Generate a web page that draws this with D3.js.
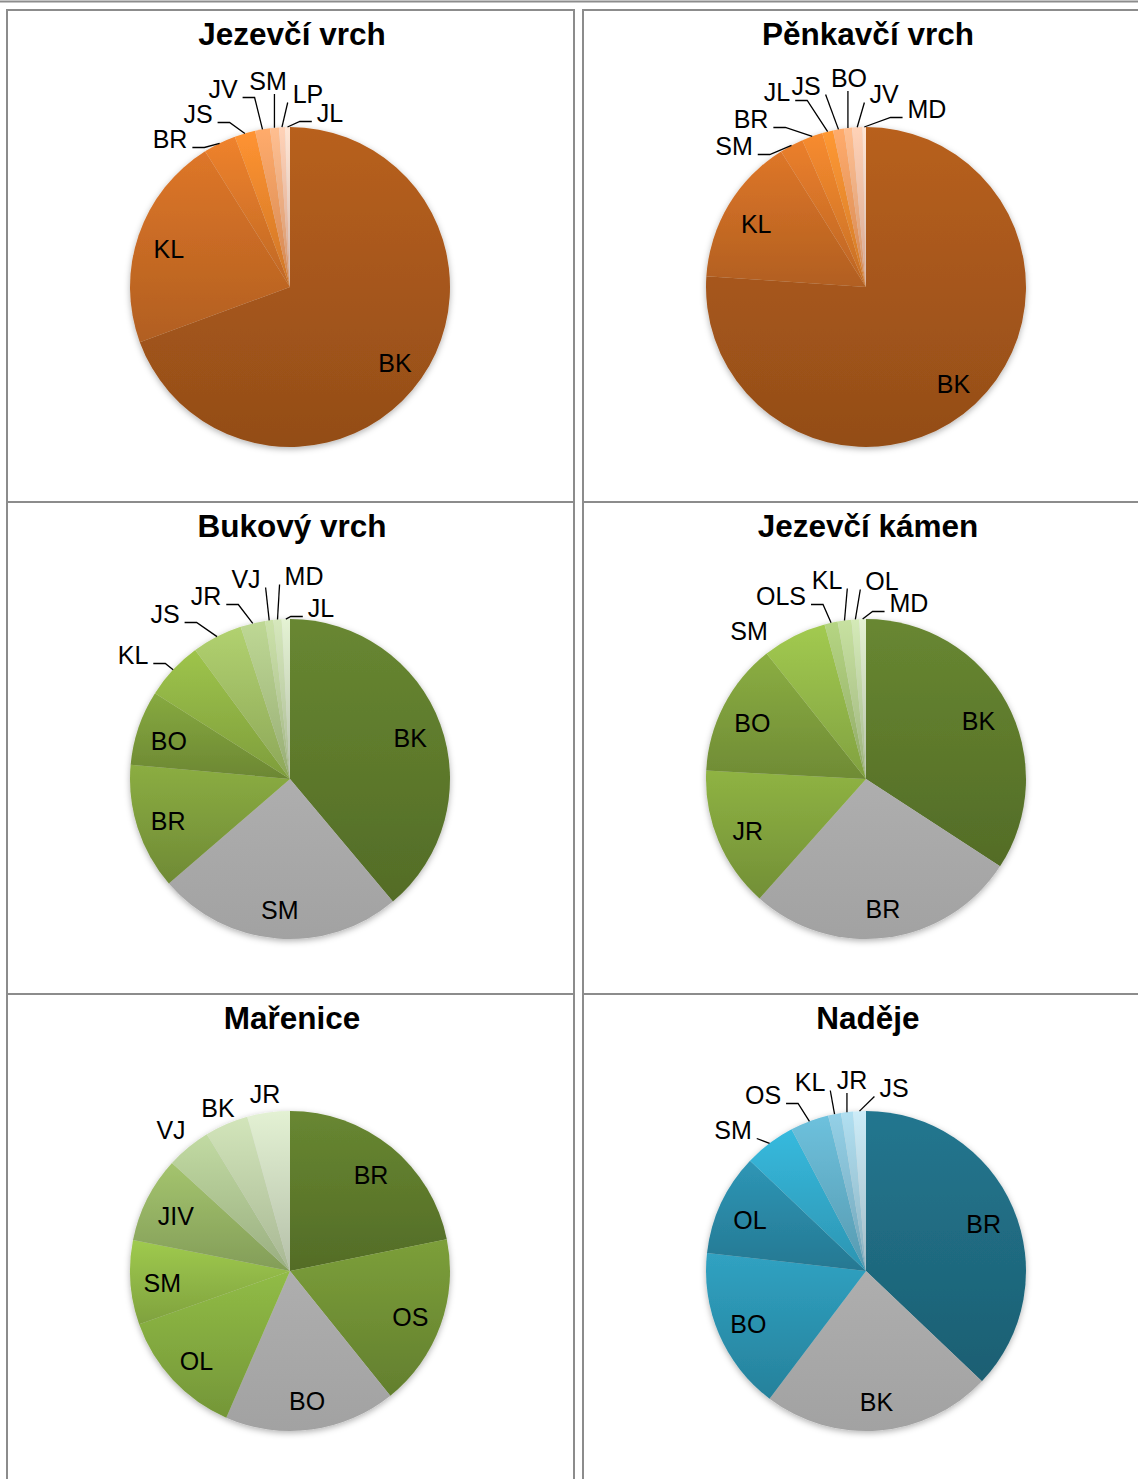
<!DOCTYPE html>
<html>
<head>
<meta charset="utf-8">
<script src="https://cdn.jsdelivr.net/npm/d3@7"></script>
<style>
  body { margin: 0; background: #fff; }
  svg text { font-family: "Liberation Sans", Arial, sans-serif; fill: #000; }
</style>
</head>
<body>
<svg id="chart" width="1138" height="1479"></svg>
<script>
// Tree species composition (%) at six forest sites

const siteTitles = ["Jezevčí vrch", "Pěnkavčí vrch", "Bukový vrch", "Jezevčí kámen", "Mařenice", "Naděje"];

const jezevciVrchSpecies = ["BK", "KL", "BR", "JS", "JV", "SM", "LP", "JL"];
const jezevciVrchShare   = [69.4, 21.7, 3.3, 2.1, 1.5, 0.9, 0.6, 0.5];

const penkavciVrchSpecies = ["BK", "KL", "SM", "BR", "JL", "JS", "BO", "JV", "MD"];
const penkavciVrchShare   = [76.0, 15.0, 2.4, 2.1, 1.1, 1.1, 0.8, 1.05, 0.35];

const bukovyVrchSpecies = ["BK", "SM", "BR", "BO", "KL", "JS", "JR", "VJ", "MD", "JL"];
const bukovyVrchShare   = [38.9, 24.8, 12.75, 7.6, 5.9, 5.1, 2.5, 0.83, 0.83, 0.83];

const jezevciKamenSpecies = ["BK", "BR", "JR", "BO", "SM", "OLS", "KL", "OL", "MD"];
const jezevciKamenShare   = [34.2, 27.4, 14.25, 13.5, 6.5, 1.33, 1.39, 0.78, 0.67];

const mareniceSpecies = ["BR", "OS", "BO", "OL", "SM", "JIV", "VJ", "BK", "JR"];
const mareniceShare   = [21.8, 17.4, 17.3, 13.06, 8.5, 8.7, 4.5, 4.4, 4.3];

const nadejeSpecies = ["BR", "BK", "BO", "OL", "SM", "OS", "KL", "JR", "JS"];
const nadejeShare   = [37.1, 23.2, 16.5, 10.3, 5.2, 3.9, 1.3, 1.2, 1.3];

// Slice fill colours (mid tone of each slice's vertical gradient)
const orangeA = ["#ad5a1c", "#d06f26", "#e07a2a", "#f28a2e", "#f7a064", "#f9b286", "#fbc5ac", "#fcd8c8"];
const orangeB = ["#ad5a1c", "#d06f26", "#dc7729", "#e8822c", "#f48f30", "#f7a064", "#f9b286", "#fbc5ac", "#fcd8c8"];
const greenA  = ["#627f2e", "#a9a9a9", "#82a23e", "#7f9f3c", "#94b846", "#a6c468", "#b2cb8b", "#bfd49f", "#c9dab0", "#d6e3c6"];
const greenB  = ["#627f2e", "#a9a9a9", "#86a83f", "#82a33e", "#98bd4b", "#aac87a", "#bbd396", "#c7dbac", "#d6e3c6"];
const greenC  = ["#627f2e", "#749536", "#a9a9a9", "#88b042", "#95bd49", "#9ab867", "#b5cc98", "#c5d7ae", "#d5e2c6"];
const blueA   = ["#216f86", "#a9a9a9", "#2d98b6", "#2b8dab", "#34aed0", "#66b5cf", "#8ac3d9", "#a5d1e2", "#bfdde9"];

// Placement of labels set outside the pie (offset of the label centre from the pie centre)
const outsideLabels = {
  "Jezevčí vrch":  { BR: [-120, -148], JS: [-92, -173], JV: [-67, -198], SM: [-22, -206], LP: [18, -193], JL: [40, -174] },
  "Pěnkavčí vrch": { SM: [-132, -141], BR: [-115, -168], JL: [-89, -195], JS: [-60, -201], BO: [-17, -209], JV: [18, -193], MD: [61, -178] },
  "Bukový vrch":   { KL: [-157, -124], JS: [-125, -165], JR: [-84, -183], VJ: [-44, -200], MD: [14, -203], JL: [31, -171] },
  "Jezevčí kámen": { SM: [-117, -148], OLS: [-85, -183], KL: [-39, -199], OL: [16, -198], MD: [43, -176] },
  "Mařenice":      { VJ: [-119, -141], BK: [-72, -163], JR: [-25, -177] },
  "Naděje":        { SM: [-133, -141], OS: [-103, -176], KL: [-56, -189], JR: [-14, -191], JS: [28, -183] }
};
const labelsWithoutLeader = { "Jezevčí kámen": ["SM"], "Mařenice": ["VJ", "BK", "JR"] };

const sites = [
  { title: siteTitles[0], species: jezevciVrchSpecies,  share: jezevciVrchShare,  colors: orangeA },
  { title: siteTitles[1], species: penkavciVrchSpecies, share: penkavciVrchShare, colors: orangeB },
  { title: siteTitles[2], species: bukovyVrchSpecies,   share: bukovyVrchShare,   colors: greenA },
  { title: siteTitles[3], species: jezevciKamenSpecies, share: jezevciKamenShare, colors: greenB },
  { title: siteTitles[4], species: mareniceSpecies,     share: mareniceShare,     colors: greenC },
  { title: siteTitles[5], species: nadejeSpecies,       share: nadejeShare,       colors: blueA }
];

// ---- layout ----
const svg = d3.select("#chart");
const colX = [7, 583];          // left edges of the panel columns
const rowY = [10, 502, 994];    // top edges of the panel rows
const panelW = 567, panelH = 492;
const radius = 160;
const labelSize = 25, titleSize = 31.5;
const borderColor = "#8c8c8c";

const defs = svg.append("defs");
const shadow = defs.append("filter").attr("id", "pieShadow")
  .attr("x", "-10%").attr("y", "-10%").attr("width", "120%").attr("height", "125%");
shadow.append("feDropShadow").attr("dx", 0).attr("dy", 2).attr("stdDeviation", 3)
  .attr("flood-color", "#000").attr("flood-opacity", 0.3);

// table frame
svg.append("line").attr("x1", 0).attr("x2", 1138).attr("y1", 1.5).attr("y2", 1.5)
  .attr("stroke", borderColor).attr("stroke-width", 2);
rowY.forEach(y => colX.forEach(x => {
  svg.append("rect").attr("x", x).attr("y", y).attr("width", panelW).attr("height", panelH)
    .attr("fill", "none").attr("stroke", borderColor).attr("stroke-width", 2);
}));

const pie = d3.pie().sort(null).value(d => d.value);
const arc = d3.arc().innerRadius(0).outerRadius(radius);
const labelArc = d3.arc().innerRadius(radius * 0.8).outerRadius(radius * 0.8);

sites.forEach((site, i) => {
  const col = i % 2, row = Math.floor(i / 2);
  const cx = colX[col] + 283, cy = rowY[row] + 277;

  svg.append("text")
    .attr("x", cx + 2).attr("y", rowY[row] + 34.5)
    .attr("text-anchor", "middle")
    .attr("font-size", titleSize).attr("font-weight", "bold")
    .text(site.title);

  const data = site.species.map((s, k) => ({ name: s, value: site.share[k], color: site.colors[k] }));
  const arcs = pie(data);

  // vertical gradient per slice: lighter top, darker bottom
  arcs.forEach((a, k) => {
    const base = d3.color(a.data.color);
    const s = d3.hsl(base).s;
    const grey = isNaN(s) || s < 0.05;
    const grad = defs.append("linearGradient").attr("id", `grad${i}_${k}`)
      .attr("x1", 0).attr("y1", 0).attr("x2", 0).attr("y2", 1);
    grad.append("stop").attr("offset", "0%").attr("stop-color", base.brighter(grey ? 0.08 : 0.18).formatHex());
    grad.append("stop").attr("offset", "100%").attr("stop-color", base.darker(grey ? 0.12 : 0.45).formatHex());
  });

  const g = svg.append("g").attr("transform", `translate(${cx},${cy})`);
  g.append("g").attr("filter", "url(#pieShadow)")
    .selectAll("path").data(arcs).join("path")
    .attr("d", arc)
    .attr("fill", (d, k) => `url(#grad${i}_${k})`);

  const placed = outsideLabels[site.title] || {};
  const noLeader = labelsWithoutLeader[site.title] || [];
  const labelG = g.append("g");

  arcs.forEach(a => {
    const name = a.data.name;
    if (placed[name]) {
      const [lx, ly] = placed[name];
      const t = labelG.append("text").attr("x", lx).attr("y", ly).attr("dy", "0.36em")
        .attr("text-anchor", "middle").attr("font-size", labelSize).text(name);
      if (noLeader.includes(name)) return;
      const w = t.node().getComputedTextLength();
      const left = lx - w / 2, right = lx + w / 2;
      const mid = (a.startAngle + a.endAngle) / 2;
      const ax = radius * Math.sin(mid), ay = -radius * Math.cos(mid);
      const pts = [];
      if (ax > right) {
        const sx = right + 5, sy = ly + 8.5;
        pts.push([sx, sy]);
        if (ax - sx > 15) pts.push([sx + 12, sy]);
      } else if (ax < left) {
        const sx = left - 5, sy = ly + 8.5;
        pts.push([sx, sy]);
        if (sx - ax > 15) pts.push([sx - 12, sy]);
      } else {
        pts.push([Math.max(left, Math.min(right, ax)), ly + 13]);
      }
      pts.push([ax, ay]);
      labelG.append("path").attr("d", d3.line()(pts))
        .attr("fill", "none").attr("stroke", "#000").attr("stroke-width", 1.3);
    } else {
      const [lx, ly] = labelArc.centroid(a);
      labelG.append("text").attr("x", lx).attr("y", ly + 3).attr("dy", "0.36em")
        .attr("text-anchor", "middle").attr("font-size", labelSize).text(name);
    }
  });
});
</script>
</body>
</html>
